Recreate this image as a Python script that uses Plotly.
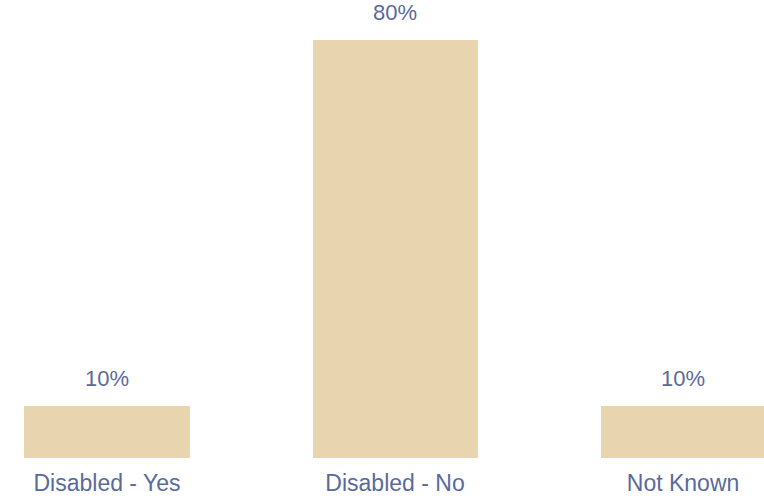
import plotly.graph_objects as go

categories = ["Disabled - Yes", "Disabled - No", "Not Known"]
values = [10, 80, 10]
labels = ["10%", "80%", "10%"]

bar_color = "#E8D5AF"
text_color = "#5A6A9C"
font_family = "Liberation Sans, Arial, sans-serif"

fig = go.Figure()
fig.add_trace(go.Bar(
    x=[0, 1, 2], y=values, width=0.573,
    marker=dict(color=bar_color, line=dict(width=0)),
    hoverinfo="skip",
))

for i, (v, t) in enumerate(zip(values, labels)):
    fig.add_annotation(x=i, y=v, text=t, showarrow=False, yanchor="bottom",
                       yshift=13, font=dict(size=22, color=text_color, family=font_family))

fig.update_layout(
    width=764, height=501,
    margin=dict(l=0, r=0, t=0, b=43),
    paper_bgcolor="white", plot_bgcolor="white",
    showlegend=False,
    bargap=0,
    xaxis=dict(range=[-0.3715, 2.281], tickmode="array", tickvals=[0, 1, 2],
               ticktext=categories, showgrid=False, zeroline=False, showline=False,
               ticks="", ticklabelstandoff=9,
               tickfont=dict(size=23, color=text_color, family=font_family)),
    yaxis=dict(range=[0, 87.66], visible=False, showgrid=False, zeroline=False),
)

fig.write_html("out.html")
